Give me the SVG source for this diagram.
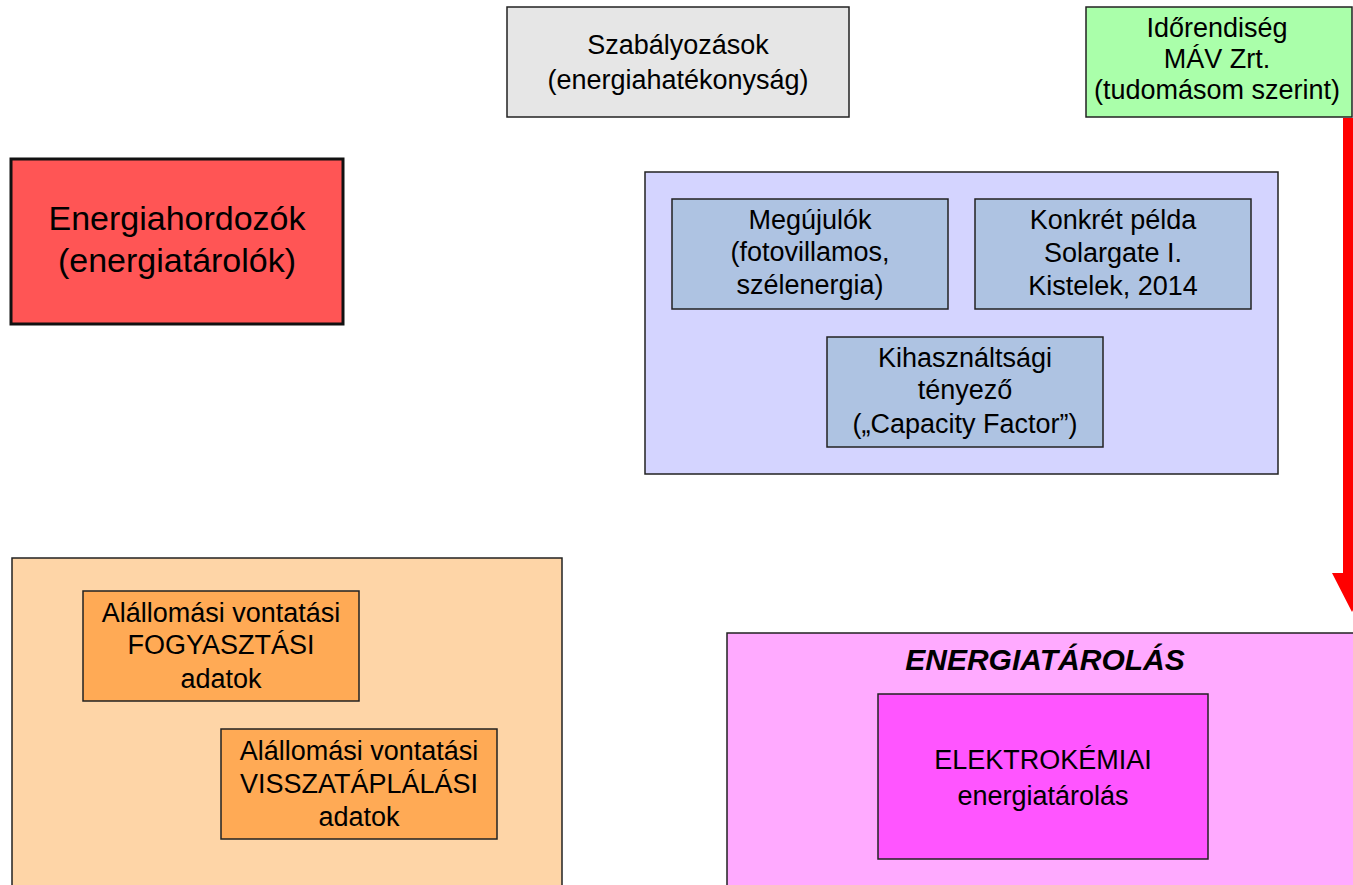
<svg xmlns="http://www.w3.org/2000/svg" width="1353" height="885" viewBox="0 0 1353 885">
<style>
.n{stroke:#222;stroke-width:1.5}
text{font-family:"Liberation Sans",Arial,sans-serif;fill:#000;text-anchor:middle}
.s{font-size:27px}
.b{font-size:34px}
.t{font-size:30px;font-weight:bold;font-style:italic}
</style>
<rect width="1353" height="885" fill="#fff"/>
<g id="connectors">
<polygon points="1343,118 1361,118 1361,573 1372,573 1352,612 1332,573 1343,573" fill="#ff0000"/>
</g>
<g id="szabalyozasok">
<rect class="n" x="507" y="7" width="342" height="110" fill="#e6e6e6"/>
<text class="s" x="678" y="54">Szabályozások</text>
<text class="s" x="678" y="89">(energiahatékonyság)</text>
</g>
<g id="idorendiseg">
<rect class="n" x="1086" y="7" width="266" height="110" fill="#aaffaa"/>
<text class="s" x="1217" y="37">Időrendiség</text>
<text class="s" x="1217" y="68">MÁV Zrt.</text>
<text class="s" x="1217" y="99">(tudomásom szerint)</text>
</g>
<g id="energiahordozok">
<rect x="11" y="159" width="332" height="165" fill="#ff5555" stroke="#111" stroke-width="3"/>
<text class="b" x="177" y="230">Energiahordozók</text>
<text class="b" x="177" y="272">(energiatárolók)</text>
</g>
<g id="megujulok-csoport">
<rect class="n" x="645" y="172" width="633" height="302" fill="#d4d4ff"/>
</g>
<g id="megujulok">
<rect class="n" x="672" y="199" width="276" height="110" fill="#aec3e2"/>
<text class="s" x="810" y="229">Megújulók</text>
<text class="s" x="810" y="261">(fotovillamos,</text>
<text class="s" x="810" y="294">szélenergia)</text>
</g>
<g id="konkret">
<rect class="n" x="975" y="199" width="276" height="110" fill="#aec3e2"/>
<text class="s" x="1113" y="229">Konkrét példa</text>
<text class="s" x="1113" y="262">Solargate I.</text>
<text class="s" x="1113" y="295">Kistelek, 2014</text>
</g>
<g id="kihasznaltsagi">
<rect class="n" x="827" y="337" width="276" height="110" fill="#aec3e2"/>
<text class="s" x="965" y="367">Kihasználtsági</text>
<text class="s" x="965" y="399">tényező</text>
<text class="s" x="965" y="433">(„Capacity Factor”)</text>
</g>
<g id="alallomasi-csoport">
<rect class="n" x="12" y="558" width="550" height="340" fill="#fed5a7"/>
</g>
<g id="fogyasztasi">
<rect class="n" x="83" y="591" width="276" height="110" fill="#ffaa55"/>
<text class="s" x="221" y="622">Alállomási vontatási</text>
<text class="s" x="221" y="654">FOGYASZTÁSI</text>
<text class="s" x="221" y="688">adatok</text>
</g>
<g id="visszataplalasi">
<rect class="n" x="221" y="729" width="276" height="110" fill="#ffaa55"/>
<text class="s" x="359" y="760">Alállomási vontatási</text>
<text class="s" x="359" y="793">VISSZATÁPLÁLÁSI</text>
<text class="s" x="359" y="826">adatok</text>
</g>
<g id="energiatarolas">
<rect class="n" x="727" y="633" width="640" height="270" fill="#ffaaff"/>
<text class="t" x="1045" y="670">ENERGIATÁROLÁS</text>
</g>
<g id="elektrokemiai">
<rect class="n" x="878" y="694" width="330" height="165" fill="#ff55ff"/>
<text class="s" x="1043" y="769">ELEKTROKÉMIAI</text>
<text class="s" x="1043" y="805">energiatárolás</text>
</g>
</svg>
